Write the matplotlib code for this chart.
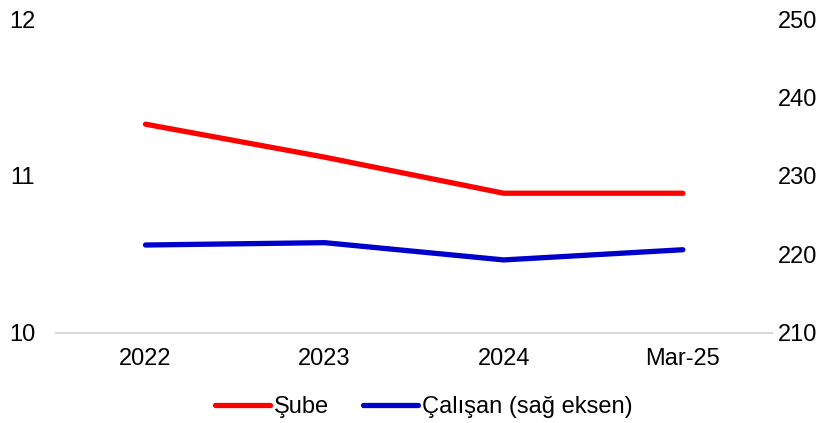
import matplotlib
matplotlib.use("Agg")
import matplotlib.pyplot as plt

categories = ["2022", "2023", "2024", "Mar-25"]
sube = [11.33, 11.12, 10.89, 10.89]
calisan = [221.2, 221.5, 219.3, 220.6]

plt.rcParams['font.family'] = ['Liberation Sans', 'DejaVu Sans']

fig = plt.figure(figsize=(8.35, 4.23), dpi=100)
ax = fig.add_axes([0.067, 0.213, 0.858, 0.742])
ax2 = ax.twinx()

x = range(len(categories))
l1, = ax.plot(x, sube, color='#FF0000', lw=3.8, solid_capstyle='round', label='Şube')
l2, = ax2.plot(x, calisan, color='#0000CC', lw=3.8, solid_capstyle='round', label='Çalışan (sağ eksen)')

ax.set_xlim(-0.5, 3.5)
ax.set_ylim(10, 12)
ax.set_yticks([10, 11, 12])
ax2.set_ylim(210, 250)
ax2.set_yticks([210, 220, 230, 240, 250])
ax.set_xticks(list(x))
ax.set_xticklabels(categories)

fs = 17
for a in (ax, ax2):
    for s in a.spines.values():
        s.set_visible(False)
    a.tick_params(length=0, labelsize=fs, colors='black')
ax.spines['bottom'].set_visible(True)
ax.spines['bottom'].set_color('#D9D9D9')
ax.spines['bottom'].set_linewidth(1.5)
ax.tick_params(axis='y', pad=15)
ax2.tick_params(axis='y', pad=4)
ax.tick_params(axis='x', pad=11)

fig.legend(handles=[l1, l2], loc='center', bbox_to_anchor=(0.508, 0.038), ncol=2,
           frameon=False, fontsize=fs, handlelength=2.33, handletextpad=0.17,
           columnspacing=1.44)

fig.savefig('out.png', dpi=100)
